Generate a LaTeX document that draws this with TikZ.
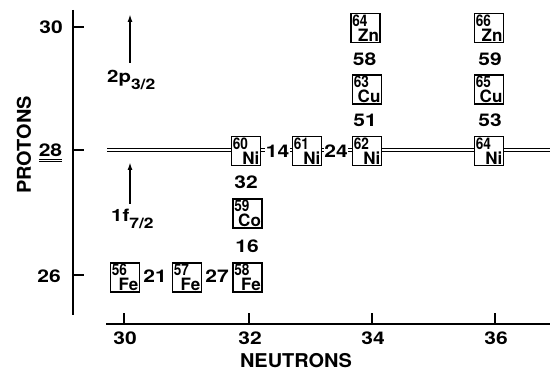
\documentclass[tikz,border=0pt]{standalone}
\usepackage{fontspec}
\setmainfont{TeX Gyre Heros}
\newfontfamily\massf[FakeStretch=0.85]{TeX Gyre Heros}
\newfontfamily\numf[FakeStretch=1.2]{TeX Gyre Heros}
\newfontfamily\lblf[FakeStretch=1.05]{TeX Gyre Heros}
\usetikzlibrary{arrows.meta}
\tikzset{
  nucbox/.style={draw, fill=white, line width=1.4pt, minimum width=29pt, minimum height=29pt, inner sep=0pt},
  massl/.style={anchor=north west, inner sep=0pt, font=\massf\bfseries\fontsize{16}{16}\selectfont},
  syml/.style={anchor=south east, inner sep=0pt, font=\bfseries\fontsize{17}{17}\selectfont},
  num/.style={inner sep=0.6pt, fill=white, font=\numf\bfseries\fontsize{17.5}{17.5}\selectfont},
  ticklbl/.style={inner sep=0pt, font=\numf\bfseries\fontsize{17.5}{17.5}\selectfont},
  axlbl/.style={inner sep=0pt, font=\lblf\bfseries\fontsize{19}{19}\selectfont},
  axline/.style={line width=1.6pt},
  shellarrow/.style={line width=1.7pt, -{Latex[length=8pt,width=5pt]}},
  closed/.style={double, double distance=1.8pt, line width=0.8pt}
}
\newcommand\nuc[5]{%
  \node[nucbox] (#1) at (#2,#3) {};
  \node[massl] (#1m) at ([shift={(1.8,1.6)}]#1.north west) {#4};
  \node[syml] (#1s) at ([shift={(-1.6,-1.5)}]#1.south east) {#5};
}
\begin{document}
\begin{tikzpicture}[x=1pt,y={(0,-1pt)}]
\useasboundingbox (0,0) rectangle (550,371);
% axes
\coordinate (ytop) at (73,10);
\coordinate (ybot) at (73,315);
\coordinate (xl) at (106,324);
\coordinate (xr) at (550,324);
\draw[axline] (ytop) -- (ybot);
\draw[axline] (xl) -- (xr);
% y ticks
\foreach \yy/\nm in {27/a,150/b,275/c}{
  \coordinate (yt\nm) at (73,\yy);
  \draw[axline] (yt\nm) -- ++(11,0);
}
\node[ticklbl] (l30) at (51,27) {30};
\node[ticklbl] (l28) at (50.5,150) {28};
\coordinate (ul1) at (39,160.5);
\coordinate (ul2) at (62,160.5);
\draw[double, double distance=1.3pt, line width=0.7pt] (ul1) -- (ul2);
\node[ticklbl] (l26) at (49,276) {26};
% x ticks
\foreach \xx/\lab in {124/30,249/32,372/34,495/36}{
  \coordinate (xt\lab) at (\xx,324);
  \draw[axline] (xt\lab) -- ++(0,-11);
  \node[ticklbl] (xl\lab) at (\xx+1,338) {\lab};
}
\node[axlbl] (neut) at (296,361) {NEUTRONS};
\node[axlbl, rotate=90] (prot) at (24,145) {PROTONS};
% closed shell line
\coordinate (dl) at (107,150);
\coordinate (dr) at (550,150);
\draw[closed] (dl) -- (dr);
% shell arrows
\coordinate (a1s) at (130,63);
\coordinate (a1e) at (130,14);
\draw[shellarrow] (a1s) -- (a1e);
\node[anchor=west, inner sep=0pt] (p32) at (107,80) {\numf\bfseries\fontsize{17}{17}\selectfont 2p\raisebox{-7pt}{\fontsize{14.5}{14.5}\selectfont 3/2}};
\coordinate (a2s) at (130,204);
\coordinate (a2e) at (130,162);
\draw[shellarrow] (a2s) -- (a2e);
\node[anchor=west, inner sep=0pt] (f72) at (111,219) {\numf\bfseries\fontsize{17}{17}\selectfont 1f\raisebox{-7pt}{\fontsize{14.5}{14.5}\selectfont 7/2}};
% nuclei
\nuc{zn64}{365.5}{28}{64}{Zn}
\nuc{zn66}{489}{28}{66}{Zn}
\nuc{cu63}{367}{89.5}{63}{Cu}
\nuc{cu65}{489}{89.5}{65}{Cu}
\nuc{ni60}{246}{151}{60}{Ni}
\nuc{ni61}{307}{151}{61}{Ni}
\nuc{ni62}{367}{151}{62}{Ni}
\nuc{ni64}{489}{151}{64}{Ni}
\nuc{co59}{247.5}{213.5}{59}{Co}
\nuc{fe56}{125}{277.5}{56}{Fe}
\nuc{fe57}{187}{277.5}{57}{Fe}
\nuc{fe58}{247.5}{277.5}{58}{Fe}
% numbers
\node[num] (n58) at (364.5,59) {58};
\node[num] (n51) at (365,120) {51};
\node[num] (n59) at (490,59) {59};
\node[num] (n53) at (490,120) {53};
\node[num] (n32) at (246,182) {32};
\node[num] (n16) at (247,246) {16};
\node[num] (n21) at (155,276) {21};
\node[num] (n27) at (217,276) {27};
\node[num] (n14) at (277.5,151) {14};
\node[num] (n24) at (336,151) {24};
\end{tikzpicture}
\end{document}
